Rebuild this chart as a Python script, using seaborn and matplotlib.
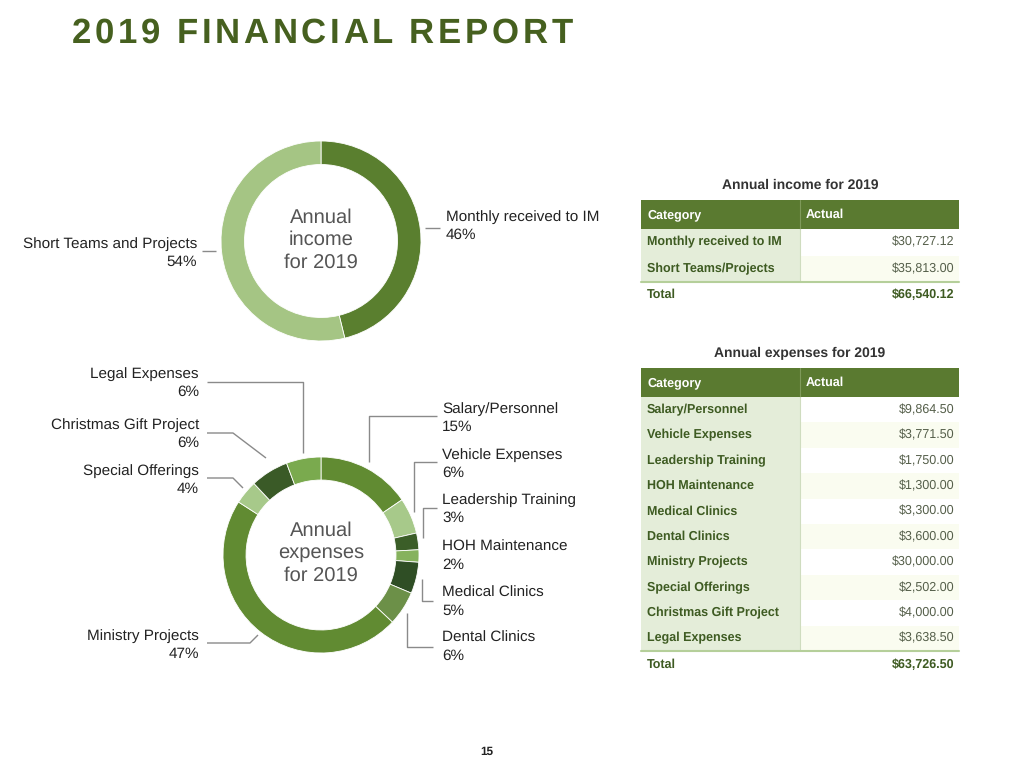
import matplotlib
matplotlib.use("Agg")
import matplotlib.pyplot as plt
import seaborn as sns
from matplotlib.patches import Rectangle

sns.set_theme(style="white")
plt.rcParams['font.family'] = ['Liberation Sans', 'DejaVu Sans']
plt.rcParams['text.hinting'] = 'no_hinting'

# ---------------- data ----------------
income_categories = ["Monthly received to IM", "Short Teams/Projects"]
income_values = [30727.12, 35813.00]
income_labels = ["Monthly received to IM", "Short Teams and Projects"]
income_total = 66540.12

expense_categories = ["Salary/Personnel", "Vehicle Expenses", "Leadership Training",
                      "HOH Maintenance", "Medical Clinics", "Dental Clinics",
                      "Ministry Projects", "Special Offerings", "Christmas Gift Project",
                      "Legal Expenses"]
expense_values = [9864.50, 3771.50, 1750.00, 1300.00, 3300.00, 3600.00,
                  30000.00, 2502.00, 4000.00, 3638.50]
expense_total = 63726.50

income_pct = [46, 54]
expense_pct = [15, 6, 3, 2, 5, 6, 47, 4, 6, 6]

income_colors = ["#5a7f2f", "#a5c584"]
expense_colors = ["#618b32", "#a7c98a", "#3b5e28", "#86b25d", "#2f4e25",
                  "#6c9048", "#618b32", "#a7c98a", "#3a5a27", "#7aaa4e"]

W, H = 1024, 768
fig = plt.figure(figsize=(W / 100, H / 100), dpi=100)
fig.patch.set_facecolor("white")


def add_pie_axes(cx, cy, r):
    ax = fig.add_axes([(cx - r) / W, (H - cy - r) / H, 2 * r / W, 2 * r / H])
    return ax


def donut(ax, values, colors):
    ax.pie(values, colors=colors, startangle=90, counterclock=False,
           radius=1.0, wedgeprops=dict(width=0.235, edgecolor="white", linewidth=0.6))
    ax.set_xlim(-1, 1)
    ax.set_ylim(-1, 1)
    ax.set_aspect("auto")
    ax.axis("off")


ax_inc = add_pie_axes(321, 241, 100)
donut(ax_inc, income_values, income_colors)
ax_exp = add_pie_axes(321, 555, 98)
donut(ax_exp, expense_values, expense_colors)

# overlay axes in pixel coordinates
ov = fig.add_axes([0, 0, 1, 1], zorder=5)
ov.set_xlim(0, W)
ov.set_ylim(H, 0)
ov.axis("off")
ov.patch.set_alpha(0)

# ---- title with letter spacing ----
title = "2019 FINANCIAL REPORT"
title_color = "#46601f"
renderer = fig.canvas.get_renderer()
x = 72
spacing = 3.7
for ch in title:
    t = ov.text(x, 34, ch, fontsize=25, fontweight="bold", color=title_color,
                ha="left", va="center")
    bb = t.get_window_extent(renderer=renderer)
    if ch == " ":
        x += 8.5 + spacing
    else:
        x += bb.width + spacing

ov.text(487, 752, "15", fontsize=8.5, fontweight="bold", color="#222222",
        ha="center", va="center")

# ---- donut centre text ----
ctext_color = "#555555"
ov.text(321, 240, "Annual\nincome\nfor 2019", fontsize=14.5, color=ctext_color,
        ha="center", va="center", linespacing=1.25)
ov.text(321, 553, "Annual\nexpenses\nfor 2019", fontsize=14.5, color=ctext_color,
        ha="center", va="center", linespacing=1.25)

lab_color = "#222222"
lab_fs = 11
line_c = "#8a8a8a"


def label(xp, y1, name, pct, ha):
    ov.text(xp, y1, name, fontsize=lab_fs, color=lab_color, ha=ha, va="center")
    ov.text(xp, y1 + 18, f"{pct}%", fontsize=lab_fs, color=lab_color, ha=ha, va="center")


def path(pts):
    xs, ys = zip(*pts)
    ov.plot(xs, ys, color=line_c, lw=1.0, solid_capstyle="butt")


# income labels
label(446, 217, income_labels[0], income_pct[0], "left")
label(197, 244, income_labels[1], income_pct[1], "right")
path([(425, 228), (440, 228)])
path([(202, 251), (216, 251)])

# expense labels right side
right_idx = [0, 1, 2, 3, 4, 5]
right_y = [409, 455, 500, 547, 593, 638]
for i, y in zip(right_idx, right_y):
    label(442, y, expense_categories[i], expense_pct[i], "left")
left_idx = [9, 8, 7, 6]
left_y = [374, 425, 471, 636]
for i, y in zip(left_idx, left_y):
    label(199, y, expense_categories[i], expense_pct[i], "right")

# leader lines
path([(437, 416), (369, 416), (369, 462)])
path([(437, 462), (414, 462), (414, 512)])
path([(437, 508), (423, 508), (423, 538)])
path([(433, 601), (422, 601), (422, 579)])
path([(433, 647), (407, 647), (407, 613)])
path([(207, 382), (303, 382), (303, 453)])
path([(207, 433), (233, 433), (266, 458)])
path([(207, 478), (233, 478), (243, 488)])
path([(207, 643), (250, 643), (258, 635)])

# ---- tables ----
hdr_color = "#5a7a30"
leftcol = "#e4edd9"
alt = "#fafcf0"
cat_color = "#3e5b22"
val_color = "#555f4a"
tfs = 9


def table(title_str, title_y, top, rows, vals, row_h, total, total_y):
    x0, xd, x1 = 641, 800, 959
    ov.text(800, title_y, title_str, fontsize=10, fontweight="bold",
            color="#333333", ha="center", va="center")
    hh = 29
    ov.add_patch(Rectangle((x0, top), x1 - x0, hh, facecolor=hdr_color, edgecolor="none"))
    ov.plot([xd, xd], [top, top + hh], color="#7f9a5a", lw=0.8)
    ov.text(x0 + 6, top + hh / 2, "Category", fontsize=tfs, fontweight="bold",
            color="white", ha="left", va="center")
    ov.text(xd + 6, top + hh / 2, "Actual", fontsize=tfs, fontweight="bold",
            color="white", ha="left", va="center")
    y = top + hh
    for k, (name, v) in enumerate(zip(rows, vals)):
        ov.add_patch(Rectangle((x0, y), xd - x0, row_h, facecolor=leftcol, edgecolor="none"))
        ov.add_patch(Rectangle((xd, y), x1 - xd, row_h,
                               facecolor="white" if k % 2 == 0 else alt, edgecolor="none"))
        ov.text(x0 + 6, y + row_h / 2, name, fontsize=tfs, fontweight="bold",
                color=cat_color, ha="left", va="center")
        ov.text(x1 - 5, y + row_h / 2, f"${v:,.2f}", fontsize=tfs,
                color=val_color, ha="right", va="center")
        y += row_h
    ov.plot([xd, xd], [top + hh, y], color="#cfdcbf", lw=0.8)
    ov.plot([x0, x1], [y, y], color="#b5cf9a", lw=1.5)
    ov.text(x0 + 6, total_y, "Total", fontsize=tfs, fontweight="bold",
            color=cat_color, ha="left", va="center")
    ov.text(x1 - 5, total_y, f"${total:,.2f}", fontsize=tfs, fontweight="bold",
            color=cat_color, ha="right", va="center")


table("Annual income for 2019", 185, 200, income_categories, income_values,
      26.5, income_total, 295)
table("Annual expenses for 2019", 353, 368, expense_categories, expense_values,
      25.4, expense_total, 665)

fig.savefig("out.png", dpi=100, facecolor="white")
